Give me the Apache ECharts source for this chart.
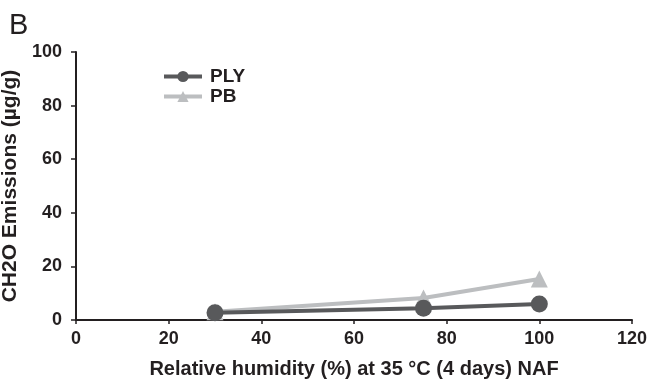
<!DOCTYPE html>
<html><head><meta charset="utf-8">
<script src="https://cdn.jsdelivr.net/npm/echarts@6/dist/echarts.min.js"></script>
<style>html,body{margin:0;padding:0;background:#fff}#c{width:652px;height:381px}</style>
</head><body><div id="c"></div>
<script>
const humidity = [30, 75, 100];
const plyValues = [2.7, 4.4, 6.0];
const pbValues = [3.1, 8.2, 15.3];
const xTicks = [0, 20, 40, 60, 80, 100, 120];
const yTicks = [0, 20, 40, 60, 80, 100];

const font = 'Liberation Sans, Arial, Helvetica, sans-serif';
const ink = '#231f20';
const chart = echarts.init(document.getElementById('c'));
chart.setOption({
  animation: false,
  backgroundColor: '#fff',
  title: {text: 'B', left: 4, top: 6, textStyle: {fontFamily: font, fontWeight: 'normal', fontSize: 29, color: ink}},
  legend: {
    left: 157, top: 62, orient: 'vertical', itemGap: 1, itemWidth: 38, itemHeight: 14,
    lineStyle: {width: 4},
    textStyle: {fontFamily: font, fontWeight: 'bold', fontSize: 19, color: ink, padding: [0, 0, 0, 3]},
    data: ['PLY', 'PB']
  },
  grid: {left: 76, right: 20, top: 52, bottom: 61, containLabel: false, outerBoundsMode: 'none'},
  xAxis: {
    type: 'value', min: 0, max: 120, interval: 20,
    name: 'Relative humidity (%) at 35 °C (4 days) NAF', nameLocation: 'middle', nameGap: 39,
    nameTextStyle: {fontFamily: font, fontWeight: 'bold', fontSize: 20, color: ink},
    axisLine: {lineStyle: {color: ink, width: 2}},
    axisTick: {inside: false, length: 4, lineStyle: {color: ink, width: 1.5}},
    axisLabel: {fontFamily: font, fontWeight: 'bold', fontSize: 18, color: ink, margin: 10,
      formatter: v => xTicks.includes(v) ? String(v) : ''},
    splitLine: {show: false}
  },
  yAxis: {
    type: 'value', min: 0, max: 100, interval: 20,
    name: 'CH2O Emissions (µg/g)', nameLocation: 'middle', nameGap: 38,
    nameTextStyle: {fontFamily: font, fontWeight: 'bold', fontSize: 21, color: ink},
    axisLine: {show: true, lineStyle: {color: ink, width: 2}},
    axisTick: {show: true, length: 5, lineStyle: {color: ink, width: 1.5}},
    axisLabel: {fontFamily: font, fontWeight: 'bold', fontSize: 18, color: ink, margin: 14,
      formatter: v => yTicks.includes(v) ? String(v) : ''},
    splitLine: {show: false}
  },
  series: [
    {name: 'PB', type: 'line', data: humidity.map((x, i) => [x, pbValues[i]]),
      symbol: 'triangle', symbolSize: 17, color: '#bcbec0',
      lineStyle: {width: 4, color: '#bcbec0'}, itemStyle: {color: '#bcbec0'}, z: 2},
    {name: 'PLY', type: 'line', data: humidity.map((x, i) => [x, plyValues[i]]),
      symbol: 'circle', symbolSize: 17, color: '#58595b',
      lineStyle: {width: 4, color: '#58595b'}, itemStyle: {color: '#58595b'}, z: 3}
  ]
});
</script></body></html>
